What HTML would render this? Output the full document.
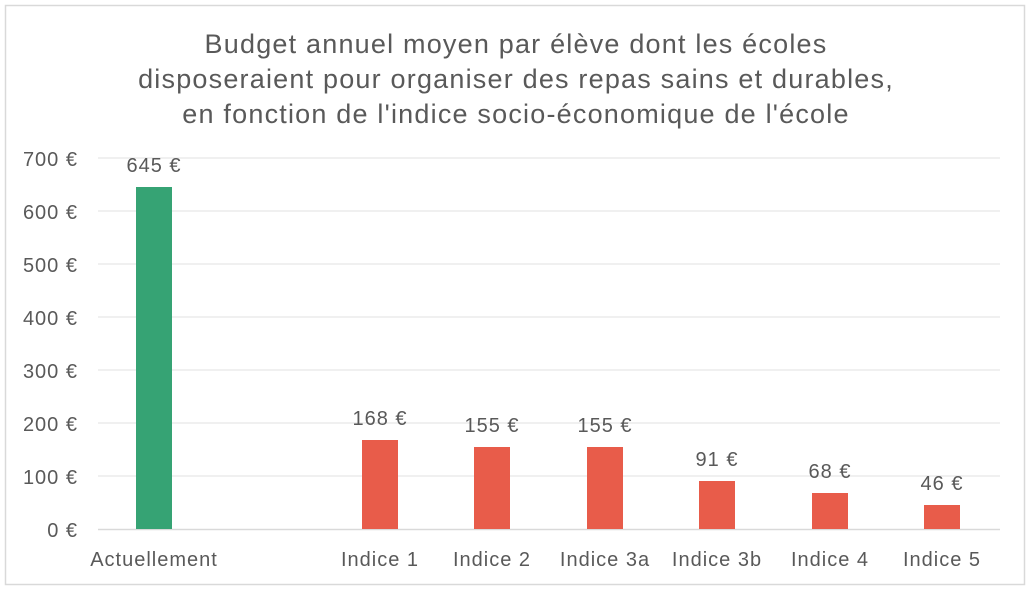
<!DOCTYPE html>
<html><head><meta charset="utf-8"><style>
body{margin:0;background:#fff}
svg{display:block}
text{font-family:"Liberation Sans",sans-serif;fill:#595959}
</style></head><body>
<svg width="1030" height="590" viewBox="0 0 1030 590">
<rect x="0" y="0" width="1030" height="590" fill="#fff"/>
<rect x="5.5" y="5.5" width="1019" height="579" fill="none" stroke="#d9d9d9" stroke-width="1.5"/>
<g text-anchor="middle" font-size="27" letter-spacing="1.2">
<text x="516" y="53">Budget annuel moyen par élève dont les écoles</text>
<text x="516" y="88">disposeraient pour organiser des repas sains et durables,</text>
<text x="516" y="123">en fonction de l'indice socio-économique de l'école</text>
</g>
<g stroke="#e6e6e6" stroke-width="1.2">
<line x1="98" x2="1000" y1="158" y2="158"/>
<line x1="98" x2="1000" y1="211" y2="211"/>
<line x1="98" x2="1000" y1="264" y2="264"/>
<line x1="98" x2="1000" y1="317" y2="317"/>
<line x1="98" x2="1000" y1="370" y2="370"/>
<line x1="98" x2="1000" y1="423" y2="423"/>
<line x1="98" x2="1000" y1="476" y2="476"/>
</g>
<line x1="98" x2="1000" y1="529.5" y2="529.5" stroke="#d9d9d9" stroke-width="1.5"/>
<g text-anchor="end" font-size="20" letter-spacing="1">
<text x="78" y="166">700 €</text>
<text x="78" y="219">600 €</text>
<text x="78" y="272">500 €</text>
<text x="78" y="325">400 €</text>
<text x="78" y="378">300 €</text>
<text x="78" y="431">200 €</text>
<text x="78" y="484">100 €</text>
<text x="78" y="537">0 €</text>
</g>
<rect x="136" y="187" width="36" height="342" fill="#36a374"/>
<g fill="#e85c4a">
<rect x="362" y="440" width="36" height="89"/>
<rect x="474" y="447" width="36" height="82"/>
<rect x="587" y="447" width="36" height="82"/>
<rect x="699" y="481" width="36" height="48"/>
<rect x="812" y="493" width="36" height="36"/>
<rect x="924" y="505" width="36" height="24"/>
</g>
<g text-anchor="middle" font-size="20" letter-spacing="1">
<text x="154" y="172">645 €</text>
<text x="380" y="425">168 €</text>
<text x="492" y="432">155 €</text>
<text x="605" y="432">155 €</text>
<text x="717" y="466">91 €</text>
<text x="830" y="478">68 €</text>
<text x="942" y="490">46 €</text>
<text x="154" y="566">Actuellement</text>
<text x="380" y="566">Indice 1</text>
<text x="492" y="566">Indice 2</text>
<text x="605" y="566">Indice 3a</text>
<text x="717" y="566">Indice 3b</text>
<text x="830" y="566">Indice 4</text>
<text x="942" y="566">Indice 5</text>
</g>
</svg>
</body></html>
